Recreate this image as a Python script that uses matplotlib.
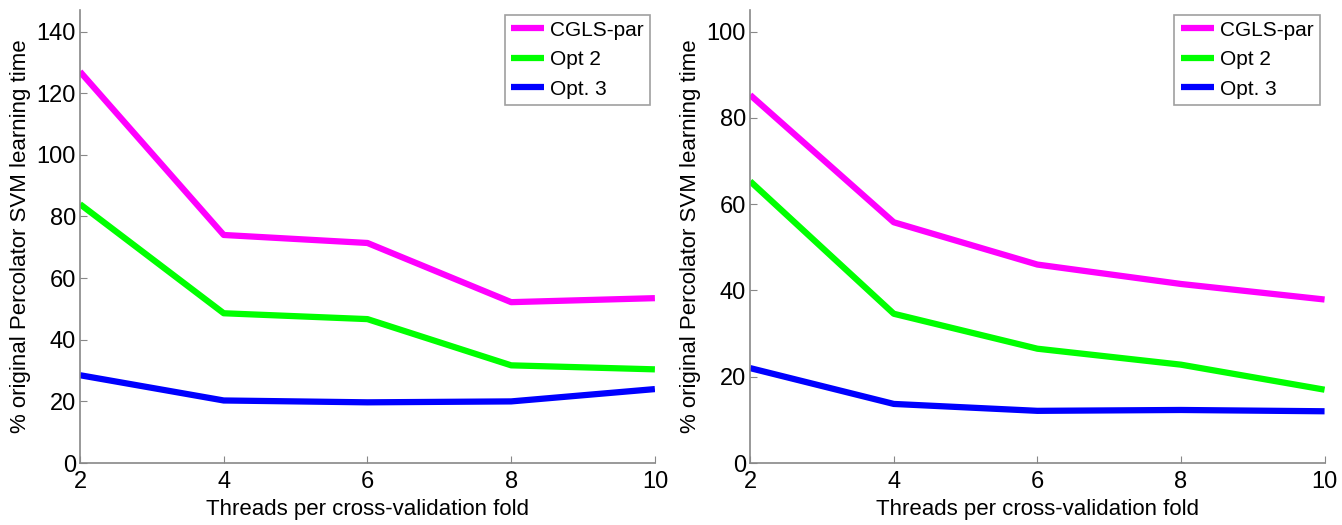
import matplotlib
matplotlib.use("Agg")
import matplotlib.pyplot as plt

plt.rcParams['font.family'] = ['Liberation Sans', 'DejaVu Sans']

threads = [2, 4, 6, 8, 10]
names = ["CGLS-par", "Opt 2", "Opt. 3"]
colors = ["#ff00ff", "#00ff00", "#0000ff"]

# left panel
left_cgls = [127, 74, 71.4, 52.2, 53.5]
left_opt2 = [84, 48.6, 46.7, 31.7, 30.4]
left_opt3 = [28.5, 20.3, 19.7, 20, 24]

# right panel
right_cgls = [85.3, 55.8, 46, 41.5, 37.9]
right_opt2 = [65.3, 34.6, 26.5, 22.8, 17]
right_opt3 = [22, 13.7, 12.1, 12.3, 12]

fig = plt.figure(figsize=(13.42, 5.25), dpi=100)
ax1 = fig.add_axes([0.0596, 0.118, 0.4284, 0.863])
ax2 = fig.add_axes([0.559, 0.118, 0.428, 0.863])

panels = [
    (ax1, [left_cgls, left_opt2, left_opt3], 147, range(0, 141, 20)),
    (ax2, [right_cgls, right_opt2, right_opt3], 105, range(0, 101, 20)),
]

for ax, series, ytop, yt in panels:
    for vals, name, c in zip(series, names, colors):
        ax.plot(threads, vals, color=c, lw=4.5, label=name, solid_capstyle='butt')
    ax.set_xlim(2, 10)
    ax.set_ylim(0, ytop)
    ax.set_xticks(threads)
    ax.set_yticks(list(yt))
    ax.spines['top'].set_visible(False)
    ax.spines['right'].set_visible(False)
    for s in ['left', 'bottom']:
        ax.spines[s].set_color('#888888')
        ax.spines[s].set_linewidth(1.2)
    ax.tick_params(direction='in', length=5, color='#888888', labelsize=17, pad=3)
    ax.tick_params(axis='x', pad=6)
    ax.set_xlabel("Threads per cross-validation fold", fontsize=16, labelpad=4)
    ax.set_ylabel("% original Percolator SVM learning time", fontsize=16, labelpad=4)
    leg = ax.legend(loc='upper right', bbox_to_anchor=(0.992, 0.99), fontsize=15,
                    frameon=True, fancybox=False, handlelength=1.6,
                    borderpad=0.3, labelspacing=0.5, handletextpad=0.3,
                    borderaxespad=0)
    leg.get_frame().set_edgecolor('#888888')
    leg.get_frame().set_linewidth(1.2)

fig.savefig("out.png", dpi=100)
